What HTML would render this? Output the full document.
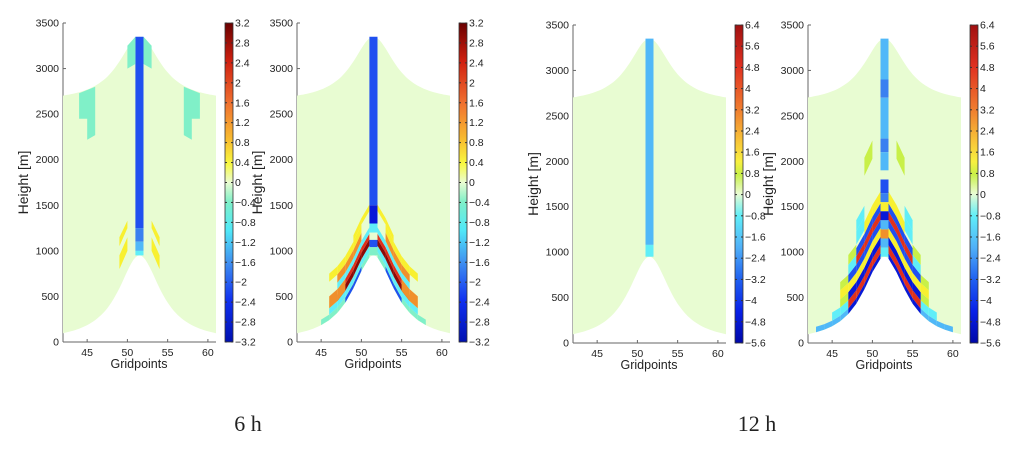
<!DOCTYPE html>
<html><head><meta charset="utf-8"><style>
body{margin:0;background:#fff;width:1024px;height:450px;overflow:hidden}
svg{display:block}
text{font-family:"Liberation Sans",sans-serif;fill:#222}
</style></head><body>
<svg id="s" width="1024" height="450" xmlns="http://www.w3.org/2000/svg"></svg>
<script>
var S=document.getElementById('s');var out='';
function agn(x){return 1/(1+Math.pow((x-51.5)/3.2,2));}
function hb(x){return 950*agn(x);}
function ht(x){return 2630+720*agn(x);}
function P(px,top,bot){
 return {X:function(g){return px+(g-42)*8.05;},Y:function(z){return bot-(z/3500)*(bot-top);}};
}
function zs(x,d){return hb(x)+d;}
function poly(m,pts,c){out+='<polygon points="'+pts.map(function(p){return m.X(p[0]).toFixed(1)+','+m.Y(p[1]).toFixed(1)}).join(' ')+'" fill="'+c+'"/>';}
function band(m,x0,x1,d0,d1,c){
 for(var x=x0;x<x1;x++){poly(m,[[x,zs(x,d0)],[x+1,zs(x+1,d0)],[x+1,zs(x+1,d1)],[x,zs(x,d1)]],c);}
}
function bandM(m,x0,x1,d0,d1,c){band(m,x0,x1,d0,d1,c);band(m,103-x1,103-x0,d0,d1,c);}
function rect(m,x0,x1,z0,z1,c){poly(m,[[x0,z0],[x1,z0],[x1,z1],[x0,z1]],c);}
function domain(m){
 var pts=[];for(var x=42;x<=61.001;x+=0.25)pts.push([x,ht(x)]);
 for(var x=61;x>=41.999;x-=0.25)pts.push([x,hb(x)]);
 poly(m,pts,'#e8fcd2');
}
function axes(px,top,bot){
 var m=P(px,top,bot);
 out+='<line x1="'+px+'" y1="'+top+'" x2="'+px+'" y2="'+bot+'" stroke="#666"/>';
 out+='<line x1="'+px+'" y1="'+bot+'" x2="'+(px+153)+'" y2="'+bot+'" stroke="#666"/>';
 for(var z=0;z<=3500;z+=500){var y=m.Y(z);out+='<line x1="'+px+'" y1="'+y+'" x2="'+(px+3)+'" y2="'+y+'" stroke="#666"/><text x="'+(px-4)+'" y="'+(y+3.5)+'" font-size="10.5" text-anchor="end">'+z+'</text>';}
 [45,50,55,60].forEach(function(g){var x=m.X(g);out+='<line x1="'+x+'" y1="'+bot+'" x2="'+x+'" y2="'+(bot-3)+'" stroke="#666"/><text x="'+x+'" y="'+(bot+14)+'" font-size="10.5" text-anchor="middle">'+g+'</text>';});
 out+='<text x="'+(px+76)+'" y="'+(bot+26)+'" font-size="12.5" text-anchor="middle">Gridpoints</text>';
 out+='<text transform="translate('+(px-35)+','+((top+bot)/2)+') rotate(-90)" font-size="14" text-anchor="middle">Height [m]</text>';
 return m;
}
function cbar(x,top,bot,labels,stops,id){
 out+='<defs><linearGradient id="'+id+'" x1="0" y1="0" x2="0" y2="1">'+stops.map(function(s){return '<stop offset="'+s[0]+'" stop-color="'+s[1]+'"/>'}).join('')+'</linearGradient></defs>';
 out+='<rect x="'+x+'" y="'+top+'" width="8" height="'+(bot-top)+'" fill="url(#'+id+')" stroke="#333" stroke-width="0.8"/>';
 var n=labels.length;for(var i=0;i<n;i++){var y=top+(bot-top)*i/(n-1);out+='<line x1="'+x+'" y1="'+y+'" x2="'+(x+2)+'" y2="'+y+'" stroke="#333"/><line x1="'+(x+6)+'" y1="'+y+'" x2="'+(x+8)+'" y2="'+y+'" stroke="#333"/><text x="'+(x+10)+'" y="'+(y+3.5)+'" font-size="10.5">'+labels[i]+'</text>';}
}
var C={dr:'#8a0a0a',r:'#e0301c',o:'#f0902c',y:'#f8f030',l:'#c8f048',g:'#e8fcd2',aq:'#80f0c8',c:'#60eef8',lb:'#50b8f8',mb:'#3a80f0',b:'#2050f0',db:'#0818d8'};
var L1=['3.2','2.8','2.4','2','1.6','1.2','0.8','0.4','0','\u22120.4','\u22120.8','\u22121.2','\u22121.6','\u22122','\u22122.4','\u22122.8','\u22123.2'];
var G1=[[0,'#6a0000'],[0.12,'#d02010'],[0.25,'#f07030'],[0.37,'#f8c030'],[0.44,'#f8f840'],[0.5,'#eafcd2'],[0.56,'#80f0c8'],[0.65,'#50e8f8'],[0.75,'#4090f0'],[0.87,'#1030f0'],[1,'#0010b0']];
var L2=['6.4','5.6','4.8','4','3.2','2.4','1.6','0.8','0','\u22120.8','\u22121.6','\u22122.4','\u22123.2','\u22124','\u22124.8','\u22125.6'];
var G2=[[0,'#a01010'],[0.13,'#e03020'],[0.27,'#f08030'],[0.37,'#f8c838'],[0.43,'#f8f040'],[0.47,'#c8f048'],[0.53,'#eafcd2'],[0.6,'#60eef8'],[0.7,'#50b0f8'],[0.8,'#2060f0'],[0.9,'#0820e8'],[1,'#0008a8']];
// Panel 1
var m=axes(63,23,342);domain(m);
rect(m,51,52,1250,3350,C.b);rect(m,51,52,1100,1250,C.mb);rect(m,51,52,1000,1100,C.lb);rect(m,51,52,950,1000,C.c);
poly(m,[[50,3000],[51,3050],[51,3350],[50,3250]],C.aq);poly(m,[[53,3000],[52,3050],[52,3350],[53,3250]],C.aq);
poly(m,[[44,2450],[45,2450],[45,2220],[46,2270],[46,2800],[44,2730]],C.aq);
poly(m,[[59,2450],[58,2450],[58,2220],[57,2270],[57,2800],[59,2730]],C.aq);
poly(m,[[49,800],[50,1000],[50,1150],[49,950]],C.y);poly(m,[[49,1050],[50,1250],[50,1330],[49,1150]],C.y);
poly(m,[[54,800],[53,1000],[53,1150],[54,950]],C.y);poly(m,[[54,1050],[53,1250],[53,1330],[54,1150]],C.y);
cbar(225,23,342,L1,G1,'g1');
// Panel 2
m=axes(297,23,342);domain(m);
bandM(m,45,51,0,60,C.aq);bandM(m,48,50,0,50,C.b);bandM(m,46,51,60,130,C.c);
bandM(m,47,51,130,200,C.dr);bandM(m,46,48,130,260,C.o);bandM(m,48,51,200,260,C.r);
bandM(m,47,51,260,330,C.c);bandM(m,47,50,330,420,C.o);bandM(m,46,50,420,510,C.y);bandM(m,49,51,510,580,C.y);
rect(m,51,52,1500,3350,C.b);rect(m,51,52,1300,1500,C.db);rect(m,51,52,1200,1300,C.c);rect(m,51,52,1120,1200,C.g);rect(m,51,52,1040,1120,C.b);rect(m,51,52,950,1040,C.aq);
cbar(459,23,342,L1,G1,'g2');
// Panel 3
m=axes(573,25,343);domain(m);
rect(m,51,52,1080,3350,C.lb);rect(m,51,52,950,1080,C.c);
cbar(735,25,343,L2,G2,'g3');
// Panel 4
m=axes(808,25,343);domain(m);
bandM(m,43,47,0,60,C.lb);bandM(m,47,51,0,60,C.db);
bandM(m,45,47,60,150,C.c);bandM(m,47,51,60,150,C.r);
bandM(m,46,47,150,240,C.l);bandM(m,47,51,150,240,C.db);
bandM(m,46,51,240,340,C.y);
bandM(m,46,47,340,430,C.l);bandM(m,47,51,340,430,C.b);
bandM(m,47,48,430,540,C.c);bandM(m,48,51,430,520,C.r);
bandM(m,47,48,540,650,C.l);bandM(m,48,51,520,610,C.b);
bandM(m,48,49,650,800,C.c);bandM(m,49,51,610,740,C.y);
bandM(m,48,49,800,920,C.c);bandM(m,49,50,1250,1450,C.l);
var cs=[[2900,3350,C.lb],[2700,2900,C.mb],[2250,2700,C.lb],[2100,2250,C.mb],[1900,2100,C.lb],[1800,1900,C.g],[1650,1800,C.b],[1550,1650,C.mb],[1450,1550,C.y],[1350,1450,C.db],[1250,1350,C.lb],[1150,1250,C.o],[1050,1150,C.lb],[950,1050,C.c]];
cs.forEach(function(s){rect(m,51,52,s[0],s[1],s[2]);});
cbar(970,25,343,L2,G2,'g4');
out+='<text x="248" y="431" font-size="22" text-anchor="middle" style="font-family:\'Liberation Serif\',serif">6 h</text>';
out+='<text x="757" y="431" font-size="22" text-anchor="middle" style="font-family:\'Liberation Serif\',serif">12 h</text>';
S.innerHTML=out;
</script>
</body></html>
